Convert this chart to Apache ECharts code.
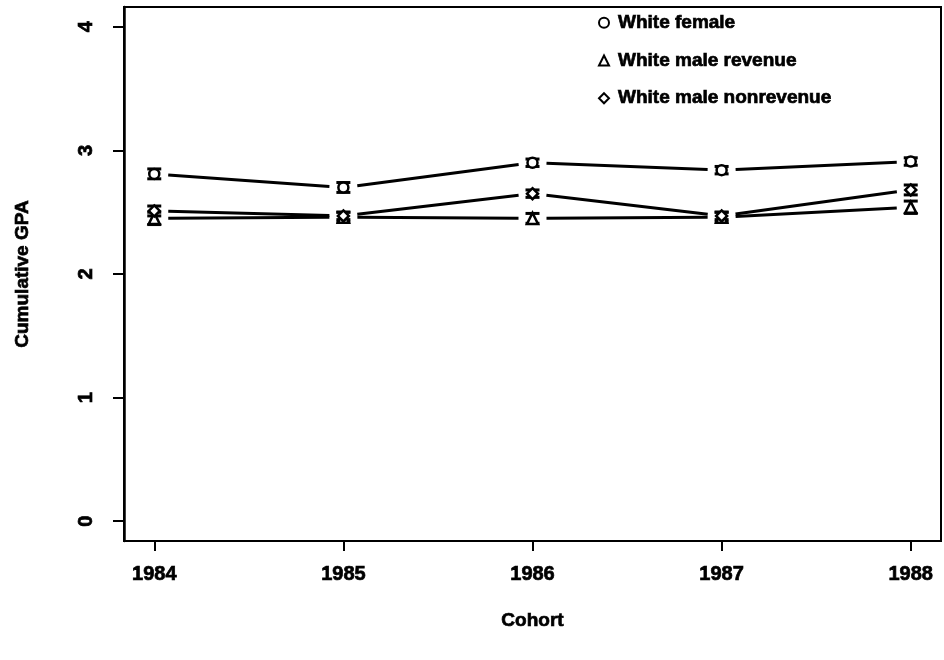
<!DOCTYPE html>
<html><head><meta charset="utf-8">
<script src="https://cdn.jsdelivr.net/npm/echarts@6/dist/echarts.min.js"></script>
<style>html,body{margin:0;padding:0;background:#fff}#c{width:944px;height:660px}</style>
</head><body><div id="c"></div>
<script>
const cohorts = [1984, 1985, 1986, 1987, 1988];
const yTicks = [0, 1, 2, 3, 4];
const seriesNames = ['White female', 'White male revenue', 'White male nonrevenue'];
const femaleGPA = [2.81, 2.70, 2.90, 2.84, 2.91];
const femaleErr = [0.04, 0.04, 0.03, 0.03, 0.03];
const maleRevGPA = [2.45, 2.46, 2.45, 2.46, 2.54];
const maleRevErr = [0.05, 0.04, 0.04, 0.04, 0.05];
const maleNonrevGPA = [2.51, 2.47, 2.65, 2.47, 2.68];
const maleNonrevErr = [0.04, 0.03, 0.03, 0.03, 0.04];

const FONT = '"Liberation Sans", Arial, sans-serif';
const heavy = {fontFamily: FONT, fontWeight: 'bold', color: '#000', textBorderColor: '#000', textBorderWidth: 0.7};
const groups = [
  {name: seriesNames[0], v: femaleGPA, e: femaleErr, symbol: 'circle', size: 10},
  {name: seriesNames[1], v: maleRevGPA, e: maleRevErr, symbol: 'triangle', size: 11},
  {name: seriesNames[2], v: maleNonrevGPA, e: maleNonrevErr, symbol: 'diamond', size: 11}
];

function segRender(params, api) {
  const p0 = api.coord([api.value(0), api.value(1)]);
  const p1 = api.coord([api.value(2), api.value(3)]);
  const dx = p1[0] - p0[0], dy = p1[1] - p0[1];
  const len = Math.sqrt(dx * dx + dy * dy);
  const gap = 14;
  const ux = dx / len, uy = dy / len;
  return {type: 'line', shape: {x1: p0[0] + ux * gap, y1: p0[1] + uy * gap, x2: p1[0] - ux * gap, y2: p1[1] - uy * gap},
    style: {stroke: '#000', lineWidth: 3}};
}
function errRender(params, api) {
  const x = api.value(0);
  const lo = api.coord([x, api.value(1)]);
  const hi = api.coord([x, api.value(2)]);
  const w = 7;
  const st = {stroke: '#000', lineWidth: 3};
  return {type: 'group', children: [
    {type: 'line', shape: {x1: lo[0], y1: lo[1], x2: hi[0], y2: hi[1]}, style: st},
    {type: 'line', shape: {x1: lo[0] - w, y1: lo[1], x2: lo[0] + w, y2: lo[1]}, style: st},
    {type: 'line', shape: {x1: hi[0] - w, y1: hi[1], x2: hi[0] + w, y2: hi[1]}, style: st}
  ]};
}

const series = [];
groups.forEach(g => {
  const segs = [];
  for (let i = 0; i < cohorts.length - 1; i++) segs.push([cohorts[i], g.v[i], cohorts[i + 1], g.v[i + 1]]);
  series.push({type: 'custom', renderItem: segRender, data: segs, silent: true, z: 2});
  series.push({type: 'custom', renderItem: errRender, data: cohorts.map((c, i) => [c, g.v[i] - g.e[i], g.v[i] + g.e[i]]), silent: true, z: 3});
  series.push({type: 'scatter', name: g.name, symbol: g.symbol, symbolSize: g.size,
    itemStyle: {color: '#fff', borderColor: '#000', borderWidth: 2.5, opacity: 1},
    data: cohorts.map((c, i) => [c, g.v[i]]), z: 4});
});

const chart = echarts.init(document.getElementById('c'), null, {renderer: 'canvas'});
chart.setOption({
  animation: false,
  backgroundColor: '#fff',
  textStyle: {fontFamily: FONT},
  grid: {left: 124, right: 3, top: 7, bottom: 119, show: true, borderColor: '#000', borderWidth: 2, backgroundColor: 'transparent'},
  legend: {
    orient: 'vertical', left: 593, top: 8, itemWidth: 10, itemHeight: 10, itemGap: 18,
    data: seriesNames,
    textStyle: Object.assign({fontSize: 19, lineHeight: 19, padding: [0, 0, 0, 4]}, heavy),
    selectedMode: false
  },
  xAxis: {
    type: 'value', min: 1983.84, max: 1988.16,
    name: 'Cohort', nameLocation: 'middle', nameGap: 70,
    nameTextStyle: Object.assign({fontSize: 19}, heavy),
    axisLine: {show: true, onZero: false, lineStyle: {color: '#000', width: 2}},
    axisTick: {show: true, length: 10, lineStyle: {color: '#000', width: 2}, customValues: cohorts},
    axisLabel: Object.assign({show: true, margin: 23, fontSize: 20, customValues: cohorts, formatter: v => String(v)}, heavy),
    splitLine: {show: false}
  },
  yAxis: {
    type: 'value', min: -0.16, max: 4.16,
    name: 'Cumulative GPA', nameLocation: 'middle', nameGap: 92,
    nameTextStyle: Object.assign({fontSize: 19}, heavy),
    axisLine: {show: true, onZero: false, lineStyle: {color: '#000', width: 2.5}},
    axisTick: {show: true, length: 11, lineStyle: {color: '#000', width: 2}, customValues: yTicks},
    axisLabel: Object.assign({show: true, rotate: 90, margin: 28, fontSize: 20, customValues: yTicks, formatter: v => String(v)}, heavy),
    splitLine: {show: false}
  },
  series: series
});
</script></body></html>
